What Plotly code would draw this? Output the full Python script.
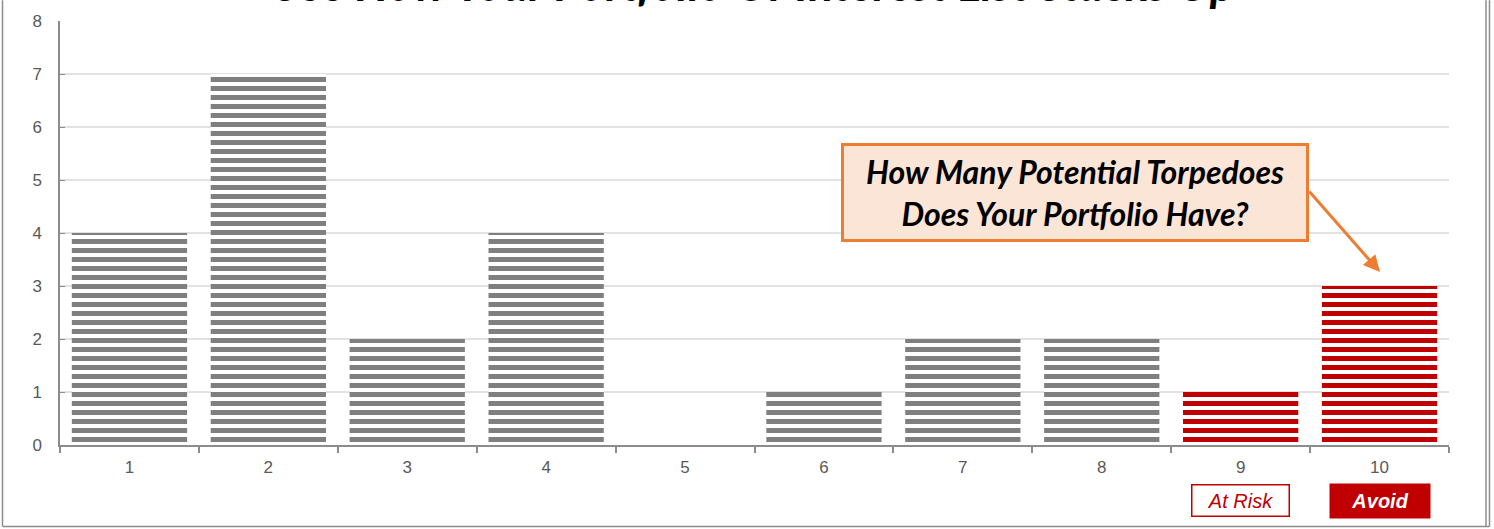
import plotly.graph_objects as go

# Portfolio / interest-list stock counts per score bucket
categories = ["1", "2", "3", "4", "5", "6", "7", "8", "9", "10"]
counts = [4, 7, 2, 4, 0, 1, 2, 2, 1, 3]
stripe_colors = ["#7F7F7F"] * 8 + ["#C00000", "#C00000"]
y_ticks = [0, 1, 2, 3, 4, 5, 6, 7, 8]
grid_levels = [1, 2, 3, 4, 5, 6, 7]

title_text = "See How Your Portfolio Or Interest List Stacks Up"
callout_text = "How Many Potential Torpedoes<br>Does Your Portfolio Have?"

W, H = 1494, 529
ML, MR, MT, MB = 60, 45, 16, 84
PW, PH = W - ML - MR, H - MT - MB


def px_x(px):
    return (px - ML) / PW


def px_y(py):
    return (H - MB - py) / PH


fig = go.Figure(
    go.Bar(
        x=categories,
        y=counts,
        marker=dict(
            color="white",
            line=dict(width=0),
            pattern=dict(
                shape="-",
                fgcolor=stripe_colors,
                bgcolor="white",
                fgopacity=1,
                size=9,
                solidity=0.55,
            ),
        ),
        hoverinfo="skip",
    )
)

shapes = []
# horizontal gridlines
for g in grid_levels:
    shapes.append(dict(type="line", xref="paper", yref="y", x0=0, x1=1, y0=g, y1=g,
                       line=dict(color="#D9D9D9", width=1.3), layer="below"))
# outer frame
frame = dict(color="#8C8C8C", width=1.5)
shapes += [
    dict(type="line", xref="paper", yref="paper", x0=px_x(2.5), x1=px_x(2.5),
         y0=px_y(527.5), y1=px_y(-5), line=frame),
    dict(type="line", xref="paper", yref="paper", x0=px_x(1486), x1=px_x(1486),
         y0=px_y(527.5), y1=px_y(-5), line=frame),
    dict(type="line", xref="paper", yref="paper", x0=px_x(1489.5), x1=px_x(1489.5),
         y0=px_y(527.5), y1=px_y(-5), line=frame),
    dict(type="line", xref="paper", yref="paper", x0=px_x(2.5), x1=px_x(1489.5),
         y0=px_y(527.5), y1=px_y(527.5), line=frame),
]

annotations = [
    # chart title (runs off the top edge)
    dict(text="<b><i>" + title_text + "</i></b>", xref="paper", yref="paper",
         x=0.5, y=px_y(-22), xanchor="center", yanchor="middle", showarrow=False,
         font=dict(family="Lato", size=47, color="black")),
    # callout box
    dict(text="<b><i>" + callout_text + "</i></b>", xref="paper", yref="paper",
         x=px_x(1075), y=px_y(189.5), xanchor="center", yanchor="middle",
         showarrow=False, width=462, height=93, bgcolor="#FBE5D6",
         bordercolor="#ED7D31", borderwidth=3, borderpad=0,
         font=dict(family="Lato", size=32, color="black")),
    # callout arrow
    dict(text="", xref="paper", yref="paper", x=px_x(1380), y=px_y(270),
         ax=-72, ay=-82, showarrow=True, arrowhead=2, arrowsize=1.1,
         arrowwidth=3, arrowcolor="#ED7D31"),
    # category badges
    dict(text="<i>At Risk</i>", xref="x", yref="paper", x=8, y=px_y(501.5),
         xanchor="center", yanchor="middle", showarrow=False, width=96, height=30,
         bgcolor="white", bordercolor="#C00000", borderwidth=1.5, borderpad=0,
         font=dict(family="Liberation Sans", size=20, color="#C00000")),
    dict(text="<b><i>Avoid</i></b>", xref="x", yref="paper", x=9, y=px_y(502),
         xanchor="center", yanchor="middle", showarrow=False, width=100, height=34,
         bgcolor="#C00000", borderpad=0,
         font=dict(family="Liberation Sans", size=20, color="white")),
]

fig.update_layout(
    width=W,
    height=H,
    margin=dict(l=ML, r=MR, t=MT, b=MB),
    paper_bgcolor="white",
    plot_bgcolor="white",
    bargap=0.17,
    showlegend=False,
    shapes=shapes,
    annotations=annotations,
    font=dict(family="Liberation Sans", color="#595959"),
    xaxis=dict(
        type="category",
        range=[-0.5, 9.5],
        tickson="boundaries",
        ticks="outside",
        ticklen=6,
        tickwidth=1.5,
        tickcolor="#8C8C8C",
        showline=True,
        linecolor="#8C8C8C",
        linewidth=1.5,
        showgrid=False,
        tickfont=dict(size=17, color="#595959"),
        ticklabelstandoff=6,
    ),
    yaxis=dict(
        range=[0, 8],
        tickvals=y_ticks,
        ticks="inside",
        ticklen=5,
        tickcolor="#8C8C8C",
        showline=True,
        linecolor="#8C8C8C",
        linewidth=1.5,
        showgrid=False,
        zeroline=False,
        tickfont=dict(size=17, color="#595959"),
        ticklabelstandoff=13,
    ),
)

fig.write_html("out.html")
